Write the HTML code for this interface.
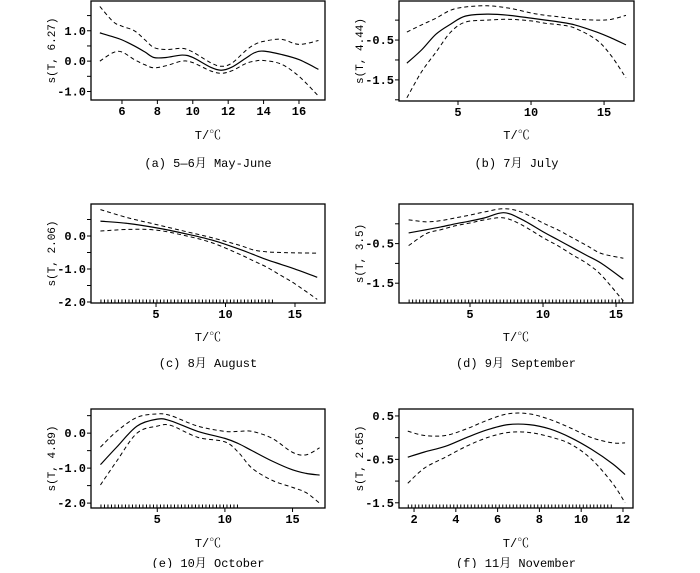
<!DOCTYPE html>
<html><head><meta charset="utf-8"><style>
body{margin:0;background:#fff;width:700px;height:568px;overflow:hidden}
svg text{font-family:"Liberation Mono","Noto Serif CJK SC",monospace;fill:#000}
</style></head><body>
<svg id="c" width="700" height="568" xmlns="http://www.w3.org/2000/svg"></svg>
<script>
// Panel (a)
const aX=[4.75,5.5,6,6.7,7.3,7.8,8.5,9.4,10,11,11.6,12.2,13,13.5,14,15,16,17.1];
const aMid=[0.93,0.8,0.7,0.5,0.3,0.12,0.12,0.2,0.12,-0.2,-0.3,-0.2,0.1,0.28,0.33,0.22,0.05,-0.27];
const aUp=[1.8,1.3,1.15,1.0,0.7,0.45,0.38,0.42,0.3,-0.05,-0.17,-0.07,0.35,0.55,0.65,0.72,0.55,0.68];
const aLo=[0.0,0.28,0.3,0.05,-0.12,-0.22,-0.15,0.0,-0.05,-0.32,-0.4,-0.32,-0.08,0.0,0.02,-0.1,-0.5,-1.15];
// Panel (b)
const bX=[1.5,2.5,3.5,4.5,5.5,7,8.5,10,11,12,13,14.5,15.5,16.5];
const bMid=[-1.08,-0.75,-0.35,-0.1,0.1,0.15,0.12,0.05,0.0,-0.05,-0.12,-0.3,-0.45,-0.62];
const bUp=[-0.3,-0.12,0.05,0.25,0.33,0.36,0.3,0.18,0.12,0.08,0.03,0.0,0.02,0.12];
const bLo=[-1.95,-1.3,-0.8,-0.3,-0.05,0.0,0.02,-0.02,-0.08,-0.12,-0.2,-0.5,-0.9,-1.45];
// Panel (c)
const cX=[1,3,5,7,9,11,12,13,14,15,16.6];
const cMid=[0.45,0.38,0.25,0.08,-0.12,-0.4,-0.56,-0.72,-0.86,-1.0,-1.25];
const cUp=[0.8,0.55,0.35,0.15,-0.05,-0.28,-0.42,-0.48,-0.5,-0.51,-0.52];
const cLo=[0.15,0.2,0.18,0.02,-0.2,-0.55,-0.75,-0.95,-1.2,-1.45,-1.92];
// Panel (d)
const dX=[0.8,2,3,4,5,6,7.3,8.5,10,11,12,13,14,15.5];
const dMid=[-0.23,-0.15,-0.08,0.0,0.07,0.15,0.28,0.12,-0.2,-0.4,-0.6,-0.8,-1.0,-1.4];
const dUp=[0.1,0.05,0.08,0.15,0.22,0.3,0.38,0.3,0.02,-0.15,-0.35,-0.55,-0.75,-0.87];
const dLo=[-0.55,-0.25,-0.15,-0.05,0.02,0.1,0.15,-0.02,-0.35,-0.55,-0.78,-1.0,-1.3,-1.95];
// Panel (e)
const eX=[0.8,2,3.5,5,6,8,10,11,12,13.5,15,16,17];
const eMid=[-0.9,-0.4,0.2,0.4,0.35,0.05,-0.15,-0.3,-0.5,-0.8,-1.05,-1.15,-1.2];
const eUp=[-0.4,0.05,0.45,0.55,0.5,0.2,0.05,0.05,0.05,-0.15,-0.55,-0.62,-0.42];
const eLo=[-1.48,-0.8,0.0,0.2,0.22,-0.12,-0.25,-0.55,-1.0,-1.35,-1.55,-1.7,-2.0];
// Panel (f)
const fX=[1.7,2.5,3.5,4.5,5.5,6.5,7.5,8.5,9.5,10.5,11.5,12.1];
const fMid=[-0.45,-0.33,-0.2,0.0,0.18,0.3,0.3,0.2,0.0,-0.27,-0.6,-0.85];
const fUp=[0.15,0.05,0.05,0.2,0.4,0.55,0.55,0.42,0.22,0.0,-0.12,-0.12];
const fLo=[-1.05,-0.7,-0.45,-0.2,0.0,0.12,0.12,0.02,-0.15,-0.5,-1.05,-1.5];

const svg=document.getElementById('c');
const NS='http://www.w3.org/2000/svg';
function mk(tag,attrs,parent){const e=document.createElementNS(NS,tag);for(const k in attrs)e.setAttribute(k,attrs[k]);(parent||svg).appendChild(e);return e;}
function smooth(pts){let d='M'+pts[0][0]+','+pts[0][1];for(let i=0;i<pts.length-1;i++){const p0=pts[Math.max(0,i-1)],p1=pts[i],p2=pts[i+1],p3=pts[Math.min(pts.length-1,i+2)];d+=' C'+(p1[0]+(p2[0]-p0[0])/6)+','+(p1[1]+(p2[1]-p0[1])/6)+' '+(p2[0]-(p3[0]-p1[0])/6)+','+(p2[1]-(p3[1]-p1[1])/6)+' '+p2[0]+','+p2[1];}return d;}

const panels=[
 {id:'a',L:91,R:325,T:1,B:100,x0:4.25,x1:17.47,y0:-1.28,y1:1.98,xt:[6,8,10,12,14,16],yt:[-1,0,1],yl:['-1.0','0.0','1.0'],ym:[-1.5,-1,-0.5,0,0.5,1,1.5],ylab:'s(T, 6.27)',cap:'(a) 5—6月 May-June',xs:aX,m:aMid,u:aUp,l:aLo,rug:null,tY:139,cY:167},
 {id:'b',L:399,R:634,T:1,B:101,x0:0.96,x1:17.05,y0:-2.03,y1:0.48,xt:[5,10,15],yt:[-1.5,-0.5],yl:['-1.5','-0.5'],ym:[-2,-1.5,-1,-0.5,0],ylab:'s(T, 4.44)',cap:'(b) 7月 July',xs:bX,m:bMid,u:bUp,l:bLo,rug:null,tY:139,cY:167},
 {id:'c',L:91,R:325,T:204,B:303,x0:0.32,x1:17.16,y0:-2.03,y1:0.97,xt:[5,10,15],yt:[-2,-1,0],yl:['-2.0','-1.0','0.0'],ym:[-2,-1.5,-1,-0.5,0,0.5],ylab:'s(T, 2.06)',cap:'(c) 8月 August',xs:cX,m:cMid,u:cUp,l:cLo,rug:[1,13.5],tY:341,cY:367},
 {id:'d',L:399,R:633,T:204,B:303,x0:0.14,x1:16.16,y0:-2.0,y1:0.5,xt:[5,10,15],yt:[-1.5,-0.5],yl:['-1.5','-0.5'],ym:[-1.5,-1,-0.5,0],ylab:'s(T, 3.5)',cap:'(d) 9月 September',xs:dX,m:dMid,u:dUp,l:dLo,rug:[0.8,15.5],tY:341,cY:367},
 {id:'e',L:91,R:325,T:409,B:508,x0:0.1,x1:17.4,y0:-2.14,y1:0.69,xt:[5,10,15],yt:[-2,-1,0],yl:['-2.0','-1.0','0.0'],ym:[-2,-1.5,-1,-0.5,0,0.5],ylab:'s(T, 4.89)',cap:'(e) 10月 October',xs:eX,m:eMid,u:eUp,l:eLo,rug:[0.8,11],tY:547,cY:567},
 {id:'f',L:399,R:633,T:409,B:508,x0:1.28,x1:12.48,y0:-1.62,y1:0.66,xt:[2,4,6,8,10,12],yt:[-1.5,-0.5,0.5],yl:['-1.5','-0.5','0.5'],ym:[-1.5,-1,-0.5,0,0.5],ylab:'s(T, 2.65)',cap:'(f) 11月 November',xs:fX,m:fMid,u:fUp,l:fLo,rug:[1.7,11.5],tY:547,cY:567}
];

panels.forEach(p=>{
 const g=mk('g',{});
 
 
 const sx=v=>p.L+(v-p.x0)/(p.x1-p.x0)*(p.R-p.L);
 const sy=v=>p.B-(v-p.y0)/(p.y1-p.y0)*(p.B-p.T);
 const box=mk('rect',{x:p.L,y:p.T,width:p.R-p.L,height:p.B-p.T,fill:'none',stroke:'#000','stroke-width':1.3},g);
 
 
 p.ym.forEach(v=>{const y=sy(v);if(y>=p.T-1&&y<=p.B+1){const t=mk('line',{x1:p.L-4,x2:p.L,y1:y,y2:y,stroke:'#000'},g);}});
 p.yt.forEach((v,i)=>{const t=mk('text',{x:p.L-5,y:sy(v)+4,'text-anchor':'end','font-size':12,'font-weight':'bold'},g);t.textContent=p.yl[i];});
 p.xt.forEach(v=>{const x=sx(v);const t=mk('line',{x1:x,x2:x,y1:p.B,y2:p.B+4,stroke:'#000'},g);
  const lb=mk('text',{x:x,y:p.B+15,'text-anchor':'middle','font-size':12,'font-weight':'bold'},g);lb.textContent=String(v);});
 const cy=(p.T+p.B)/2;
 const yl=mk('text',{x:0,y:0,transform:'translate('+(p.L-36)+','+cy+') rotate(-90)','text-anchor':'middle','font-size':11},g);yl.textContent=p.ylab;
 const cx=(p.L+p.R)/2;
 const xl=mk('text',{x:cx,y:p.tY,'text-anchor':'middle','font-size':12},g);xl.textContent='T/℃';
 const cp=mk('text',{x:cx,y:p.cY,'text-anchor':'middle','font-size':12},g);cp.textContent=p.cap;
 if(p.rug){const r=mk('line',{x1:sx(p.rug[0]),x2:sx(p.rug[1]),y1:p.B-2,y2:p.B-2,stroke:'#000','stroke-width':3,'stroke-dasharray':'1 2.5'},g);}
 const pts=a=>p.xs.map((x,i)=>[sx(x),sy(a[i])]);
 const up=mk('path',{d:smooth(pts(p.u)),fill:'none',stroke:'#000','stroke-width':1,'stroke-dasharray':'4 3'},g);
 const lo=mk('path',{d:smooth(pts(p.l)),fill:'none',stroke:'#000','stroke-width':1,'stroke-dasharray':'4 3'},g);
 const mid=mk('path',{d:smooth(pts(p.m)),fill:'none',stroke:'#000','stroke-width':1.2},g);
});
</script>
</body></html>
